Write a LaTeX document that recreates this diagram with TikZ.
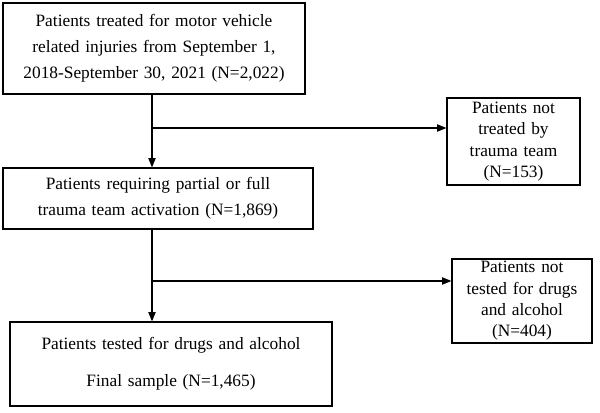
\documentclass[tikz,border=0pt]{standalone}
\usepackage{fontspec}
\setmainfont{Liberation Serif}
\usetikzlibrary{arrows.meta,positioning}
\begin{document}
\begin{tikzpicture}[x=0.75pt,y=-0.75pt,
    box/.style={draw, line width=0.9pt, align=center, inner sep=0pt,
      font=\fontsize{13}{19.5}\selectfont},
    side/.style={box, font=\fontsize{13}{16}\selectfont},
    arr/.style={-{Triangle[length=7pt,width=5.5pt]}, line width=0.8pt}]
    \useasboundingbox (0,0) rectangle (600,413);
    \node[box, text width=290*0.75pt, minimum width=302*0.75pt, minimum height=91*0.75pt] (total) at (154,48.5)
      {Patients treated for motor vehicle\\related injuries from September 1,\\2018-September 30, 2021 (N=2,022)};
    \node[side, text width=125*0.75pt, minimum width=133*0.75pt, minimum height=87*0.75pt] (notrauma) at (513.5,141.5)
      {Patients not\\treated by\\trauma team\\(N=153)};
    \node[box, text width=300*0.75pt, minimum width=310*0.75pt, minimum height=61*0.75pt] (trauma) at (158,198.5)
      {Patients requiring partial or full\\trauma team activation (N=1,869)};
    \node[side, text width=132*0.75pt, minimum width=140*0.75pt, minimum height=84*0.75pt] (nottested) at (522,301)
      {Patients not\\tested for drugs\\and alcohol\\(N=404)};
    \node[box, text width=312*0.75pt, minimum width=322*0.75pt, minimum height=84*0.75pt] (final) at (171,364)
      {Patients tested for drugs and alcohol\\[8pt]Final sample (N=1,465)};
    % junctions on the vertical lines
    \coordinate (j1) at (152,128);
    \coordinate (j2) at (152,281);
    \draw[arr] (total.south -| j1) -- (trauma.north -| j1);
    \draw[arr] (j1) -- (j1 -| notrauma.west);
    \draw[arr] (trauma.south -| j2) -- (final.north -| j2);
    \draw[arr] (j2) -- (j2 -| nottested.west);
\end{tikzpicture}
\end{document}
